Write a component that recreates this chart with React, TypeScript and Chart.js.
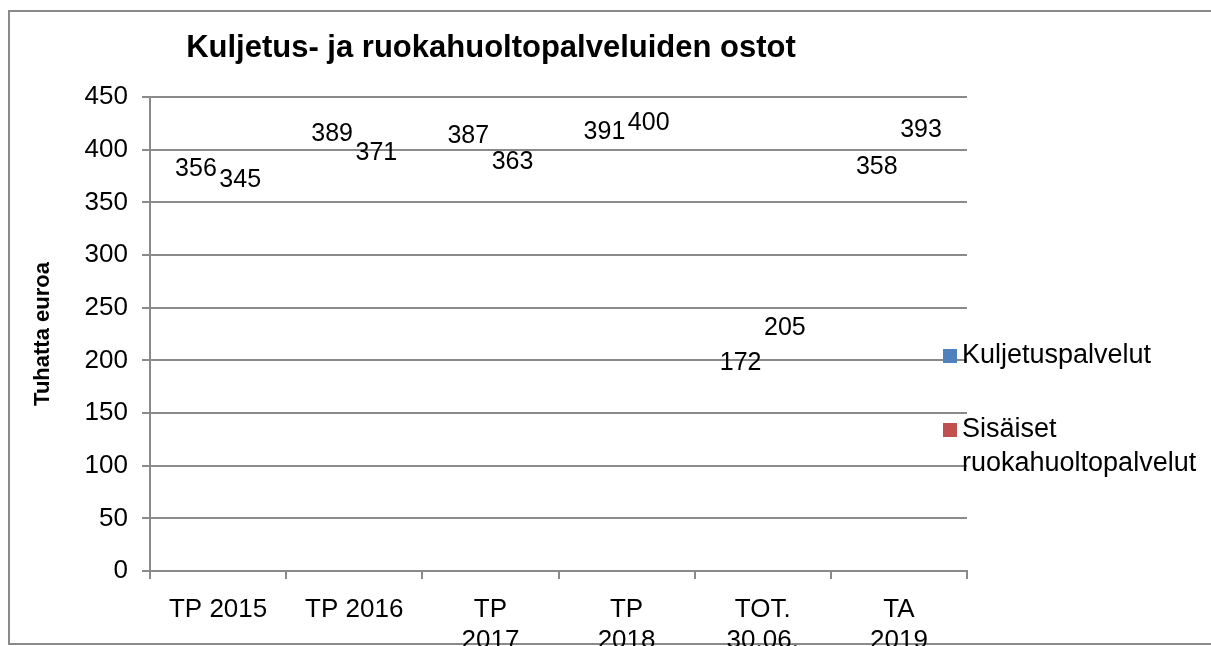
import React, { useEffect, useRef } from "react";
import { Chart, registerables } from "chart.js";

Chart.register(...registerables);

const TITLE = "Kuljetus- ja ruokahuoltopalveluiden ostot";
const Y_TITLE = "Tuhatta euroa";
const CATEGORIES: (string | string[])[] = [
  "TP 2015",
  "TP 2016",
  ["TP", "2017"],
  ["TP", "2018"],
  ["TOT.", "30.06."],
  ["TA", "2019"],
];
const SERIES_NAMES: (string | string[])[] = ["Kuljetuspalvelut", ["Sisäiset", "ruokahuoltopalvelut"]];
const KULJETUS = [356, 389, 387, 391, 172, 358];
const SISAISET = [345, 371, 363, 400, 205, 393];
const SERIES_COLORS = ["#4F81BD", "#C0504D"];
const Y_MIN = 0;
const Y_MAX = 450;
const Y_STEP = 50;

const FONT = "'Liberation Sans', Arial, sans-serif";
const GRID = "#8a8a8a";

const decorPlugin = {
  id: "decor",
  beforeDraw(chart: any) {
    const { ctx, width, height } = chart;
    ctx.save();
    ctx.fillStyle = "#ffffff";
    ctx.fillRect(0, 0, width, height);
    ctx.strokeStyle = GRID;
    ctx.lineWidth = 2;
    ctx.strokeRect(9, 11, width + 10, height - 13);
    ctx.restore();
  },
  afterDraw(chart: any) {
    const { ctx, chartArea } = chart;
    ctx.save();
    // title
    ctx.fillStyle = "#000";
    ctx.font = `bold 31px ${FONT}`;
    ctx.textAlign = "center";
    ctx.textBaseline = "alphabetic";
    ctx.fillText(TITLE, 491, 57);

    // data labels
    ctx.font = `25px ${FONT}`;
    ctx.textBaseline = "middle";
    chart.data.datasets.forEach((ds: any, di: number) => {
      const meta = chart.getDatasetMeta(di);
      meta.data.forEach((bar: any, idx: number) => {
        ctx.fillText(String(ds.data[idx]), bar.x, bar.y - 27);
      });
    });

    // legend
    const boxX = chartArea.right - 24;
    let y = 356;
    ctx.font = `27px ${FONT}`;
    ctx.textAlign = "left";
    SERIES_NAMES.forEach((name, i) => {
      const lines = Array.isArray(name) ? name : [name];
      ctx.fillStyle = SERIES_COLORS[i];
      ctx.fillRect(boxX, y - 7, 14, 14);
      ctx.fillStyle = "#000";
      lines.forEach((ln, li) => {
        ctx.fillText(ln, boxX + 19, y + li * 34);
      });
      y += 74;
    });
    ctx.restore();
  },
};

export default function App() {
  const ref = useRef<HTMLCanvasElement | null>(null);
  useEffect(() => {
    if (!ref.current) return;
    const chart = new Chart(ref.current, {
      type: "bar",
      data: {
        labels: CATEGORIES as any,
        datasets: [
          {
            label: "Kuljetuspalvelut",
            data: KULJETUS,
            backgroundColor: "rgba(0,0,0,0)",
            borderWidth: 0,
          },
          {
            label: "Sisäiset ruokahuoltopalvelut",
            data: SISAISET,
            backgroundColor: "rgba(0,0,0,0)",
            borderWidth: 0,
          },
        ],
      },
      options: {
        responsive: false,
        animation: false,
        layout: { padding: { top: 97, right: 244, bottom: 0, left: 0 } },
        datasets: { bar: { categoryPercentage: 0.65, barPercentage: 1 } },
        plugins: {
          legend: { display: false },
          title: { display: false },
          tooltip: { enabled: false },
        },
        scales: {
          x: {
            offset: true,
            grid: { display: true, drawOnChartArea: false, drawTicks: true, tickLength: 8, color: GRID, lineWidth: 2, offset: true },
            border: { display: true, color: GRID, width: 2 },
            ticks: { color: "#000", font: { family: FONT, size: 26 }, padding: 15, maxRotation: 0, autoSkip: false },
            afterFit: (s: any) => {
              s.height = 75;
            },
          },
          y: {
            min: Y_MIN,
            max: Y_MAX,
            grid: { color: GRID, lineWidth: 2, tickLength: 8, drawTicks: true },
            border: { display: true, color: GRID, width: 2 },
            ticks: { stepSize: Y_STEP, color: "#000", font: { family: FONT, size: 26 }, padding: 14 },
            title: {
              display: true,
              text: Y_TITLE,
              color: "#000",
              font: { family: FONT, size: 22, weight: "bold" },
              padding: { top: 30, bottom: 0 },
            },
            afterFit: (s: any) => {
              s.width = 150;
            },
          },
        },
      },
      plugins: [decorPlugin],
    });
    return () => chart.destroy();
  }, []);
  return (
    <div style={{ position: "fixed", left: 0, top: 0, width: 1211, height: 646 }}>
      <canvas ref={ref} width={1211} height={646} />
    </div>
  );
}
